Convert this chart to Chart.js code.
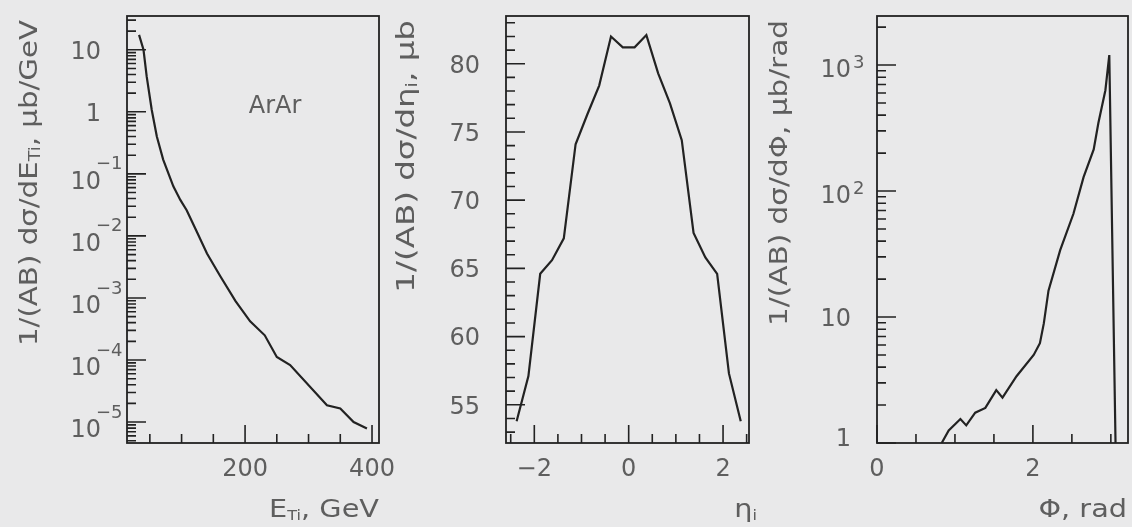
<!DOCTYPE html>
<html>
<head>
<meta charset="utf-8">
<script src="https://cdn.jsdelivr.net/npm/chart.js@4.4.1/dist/chart.umd.min.js"></script>
<style>
  html, body { margin: 0; padding: 0; background: #e9e9ea; }
  #wrap { position: relative; width: 1132px; height: 527px; }
  #wrap canvas { position: absolute; left: 0; top: 0; }
</style>
</head>
<body>
<div id="wrap">
  <canvas id="etChart" width="1132" height="527"></canvas>
  <canvas id="etaChart" width="1132" height="527"></canvas>
  <canvas id="phiChart" width="1132" height="527"></canvas>
</div>
<script>
// --- panel 1: transverse energy spectrum (log y)
const etBins = [33, 40, 45, 53, 61, 71, 87, 98, 108, 116, 124, 140, 161, 185, 208, 231, 250, 271, 329, 350, 371, 392];
const etCross = [17.4, 10, 3.72, 1.07, 0.40, 0.17, 0.063, 0.038, 0.026, 0.0174, 0.0117, 0.0052, 0.00224,
                 8.9e-4, 4.2e-4, 2.5e-4, 1.12e-4, 8.3e-5, 1.86e-5, 1.66e-5, 1.0e-5, 7.9e-6];
const etXTicks = [200, 400];
const etXMinor = [50, 100, 150, 250, 300, 350];
const etXLabels = ['200', '400'];
const etYTicks = [10, 1, 0.1, 0.01, 0.001, 1e-4, 1e-5];
const etYLabels = ['10', '1', '10^{\u22121}', '10^{\u22122}', '10^{\u22123}', '10^{\u22124}', '10^{\u22125}'];

// --- panel 2: pseudorapidity
const etaBins = [-2.375, -2.125, -1.875, -1.625, -1.375, -1.125, -0.875, -0.625, -0.375, -0.125,
                 0.125, 0.375, 0.625, 0.875, 1.125, 1.375, 1.625, 1.875, 2.125, 2.375];
const etaCross = [53.8, 57.1, 64.6, 65.6, 67.2, 74.1, 76.3, 78.4, 82.0, 81.2,
                  81.2, 82.1, 79.3, 77.1, 74.4, 67.6, 65.8, 64.6, 57.3, 53.8];
const etaXTicks = [-2, 0, 2];
const etaXMinor = [-2.5, -1.5, -1, -0.5, 0.5, 1, 1.5, 2.5];
const etaXLabels = ['\u22122', '0', '2'];
const etaYTicks = [55, 60, 65, 70, 75, 80];
const etaYMinor = [53, 54, 56, 57, 58, 59, 61, 62, 63, 64, 66, 67, 68, 69, 71, 72, 73, 74, 76, 77, 78, 79, 81, 82, 83];
const etaYLabels = ['55', '60', '65', '70', '75', '80'];

// --- panel 3: azimuthal angle (log y)
const phiBins = [0.83, 0.92, 1.07, 1.145, 1.26, 1.39, 1.53, 1.61, 1.79, 2.01, 2.09, 2.14, 2.20,
                 2.35, 2.52, 2.65, 2.78, 2.84, 2.93, 2.98, 3.06];
const phiCross = [1.0, 1.26, 1.55, 1.38, 1.74, 1.9, 2.63, 2.29, 3.39, 5.0, 6.2, 8.9, 16.2,
                  33.9, 66, 129, 214, 347, 631, 1200, 1.0];
const phiXTicks = [0, 2];
const phiXMinor = [0.5, 1, 1.5, 2.5, 3];
const phiXLabels = ['0', '2'];
const phiYTicks = [1, 10, 100, 1000];
const phiYLabels = ['1', '10', '10^{2}', '10^{3}'];

const ink = '#222222';
const textInk = '#5e5e5e';
const FONT = '"DejaVu Sans", sans-serif';

// split "E_{Ti}" / "10^{2}" into plain, sub and sup pieces
function parseRich(str) {
    const segs = [];
    let i = 0, buf = '';
    while (i < str.length) {
        const c = str[i];
        if ((c === '_' || c === '^') && str[i + 1] === '{') {
            if (buf) { segs.push({ t: buf, mode: '' }); buf = ''; }
            const end = str.indexOf('}', i);
            segs.push({ t: str.slice(i + 2, end), mode: c === '_' ? 'sub' : 'sup' });
            i = end + 1;
        } else {
            buf += c;
            i++;
        }
    }
    if (buf) segs.push({ t: buf, mode: '' });
    return segs;
}

function drawRich(ctx, str, x, y, o) {
    const segs = parseRich(str);
    const size = o.size;
    const supSize = o.supSize || Math.round(size * 0.7);
    const subSize = o.subSize || Math.round(size * 0.58);
    ctx.save();
    ctx.translate(x, y);
    if (o.rot) ctx.rotate(o.rot);
    ctx.scale(o.stretch || 1, 1);
    ctx.fillStyle = textInk;
    ctx.textAlign = 'left';
    ctx.textBaseline = 'alphabetic';
    const sizes = segs.map(s => s.mode === 'sup' ? supSize : s.mode === 'sub' ? subSize : size);
    const widths = segs.map((s, i) => {
        ctx.font = sizes[i] + 'px ' + FONT;
        return ctx.measureText(s.t).width + (s.mode === 'sup' ? (o.supGap || 0) : 0);
    });
    const total = widths.reduce((a, b) => a + b, 0);
    let cx = o.align === 'right' ? -total : o.align === 'center' ? -total / 2 : 0;
    if (o.anchorBase) {
        // right edge of the plain part sits at x, exponent hangs to the right
        const plain = segs.reduce((w, s, i) => s.mode === 'sup' ? w : w + widths[i], 0);
        cx = -plain;
    }
    segs.forEach((s, i) => {
        ctx.font = sizes[i] + 'px ' + FONT;
        let mid = o.shift || 0;
        if (s.mode === 'sup') mid -= o.supRise || size * 0.5;
        if (s.mode === 'sub') mid += o.subDrop || size * 0.3;
        const gap = s.mode === 'sup' ? (o.supGap || 0) : 0;
        ctx.fillText(s.t, cx + gap, mid + sizes[i] * 0.365);
        cx += widths[i];
    });
    ctx.restore();
}

function logMinor(min, max) {
    const out = [];
    for (let d = Math.floor(Math.log10(min)); d <= Math.ceil(Math.log10(max)); d++) {
        for (let m = 2; m <= 9; m++) {
            const v = m * Math.pow(10, d);
            if (v > min && v < max) out.push(v);
        }
    }
    return out;
}

// PAW-like frame: inward ticks on left and bottom, labels and titles
const pawAxes = {
    id: 'pawAxes',
    afterDraw(chart, args, o) {
        const { ctx, chartArea: a } = chart;
        const xs = chart.scales.x, ys = chart.scales.y;
        ctx.save();
        ctx.strokeStyle = ink;
        ctx.lineWidth = 1.6;
        ctx.beginPath();
        o.xMinor.forEach(v => { const p = xs.getPixelForValue(v); ctx.moveTo(p, a.bottom); ctx.lineTo(p, a.bottom - 9); });
        o.xMajor.forEach(v => { const p = xs.getPixelForValue(v); ctx.moveTo(p, a.bottom); ctx.lineTo(p, a.bottom - 18); });
        o.yMinor.forEach(v => { const p = ys.getPixelForValue(v); ctx.moveTo(a.left, p); ctx.lineTo(a.left + 9, p); });
        o.yMajor.forEach(v => { const p = ys.getPixelForValue(v); ctx.moveTo(a.left, p); ctx.lineTo(a.left + 19, p); });
        ctx.stroke();
        ctx.lineWidth = 1.8;
        ctx.strokeRect(a.left, a.top, a.right - a.left, a.bottom - a.top);
        ctx.restore();

        o.xMajor.forEach((v, i) => {
            drawRich(ctx, o.xLabels[i], xs.getPixelForValue(v), a.bottom + 24, { size: 24, align: 'center' });
        });
        o.yMajor.forEach((v, i) => {
            const lab = o.yLabels[i];
            const hasExp = lab.indexOf('^') >= 0;
            let shift = hasExp ? o.expShift : 0;
            if (i === 0 && o.firstShift) shift += o.firstShift;
            drawRich(ctx, lab, a.left - 26, ys.getPixelForValue(v), {
                size: 24, align: 'right', anchorBase: hasExp, supSize: 18,
                shift: shift, supRise: o.supRise, supGap: o.supGap
            });
        });
        drawRich(ctx, o.xTitle, o.xTitleRight, a.bottom + 65, {
            size: 25, align: 'right', stretch: 1.15, subSize: 14, subDrop: 7
        });
        drawRich(ctx, o.yTitle, o.yTitleX, a.top + 4, {
            size: 25, align: 'right', stretch: o.titleStretch || 1.15, rot: -Math.PI / 2, subSize: 15, subDrop: 7
        });
        if (o.note) drawRich(ctx, o.note.text, o.note.x, o.note.y, { size: 24, align: 'center' });
    }
};

function makePanel(id, xs, ys, pad, xScale, yScale, axes) {
    const canvas = document.getElementById(id);
    return new Chart(canvas.getContext('2d'), {
        type: 'line',
        data: {
            datasets: [{
                data: xs.map((v, i) => ({ x: v, y: ys[i] })),
                borderColor: ink,
                borderWidth: 2.2,
                pointRadius: 0,
                tension: 0,
                fill: false
            }]
        },
        options: {
            responsive: false,
            animation: false,
            events: [],
            layout: { padding: pad },
            plugins: { legend: { display: false }, tooltip: { enabled: false }, pawAxes: axes },
            scales: {
                x: Object.assign({ display: false }, xScale),
                y: Object.assign({ display: false }, yScale)
            }
        },
        plugins: [pawAxes]
    });
}

makePanel('etChart', etBins, etCross,
    { left: 127, right: 753, top: 16, bottom: 84 },
    { type: 'linear', min: 14, max: 411 },
    { type: 'logarithmic', min: 4.6e-6, max: 35 },
    {
        xMajor: etXTicks, xMinor: etXMinor, xLabels: etXLabels,
        yMajor: etYTicks, yMinor: logMinor(4.6e-6, 35), yLabels: etYLabels,
        expShift: 6, supRise: 17, supGap: -5,
        xTitle: 'E_{Ti}, GeV', xTitleRight: 379,
        yTitle: '1/(AB) d\u03c3/dE_{Ti}, \u03bcb/GeV', yTitleX: 28, titleStretch: 1.17,
        note: { text: 'ArAr', x: 275, y: 104 }
    });

makePanel('etaChart', etaBins, etaCross,
    { left: 506, right: 383, top: 16, bottom: 84 },
    { type: 'linear', min: -2.6, max: 2.55 },
    { type: 'linear', min: 52.2, max: 83.5 },
    {
        xMajor: etaXTicks, xMinor: etaXMinor, xLabels: etaXLabels,
        yMajor: etaYTicks, yMinor: etaYMinor, yLabels: etaYLabels,
        xTitle: '\u03b7_{i}', xTitleRight: 757,
        yTitle: '1/(AB) d\u03c3/d\u03b7_{i}, \u03bcb', yTitleX: 405, titleStretch: 1.3
    });

makePanel('phiChart', phiBins, phiCross,
    { left: 877, right: 4, top: 16, bottom: 84 },
    { type: 'linear', min: 0, max: 3.22 },
    { type: 'logarithmic', min: 1, max: 2450 },
    {
        xMajor: phiXTicks, xMinor: phiXMinor, xLabels: phiXLabels,
        yMajor: phiYTicks, yMinor: logMinor(1, 2450), yLabels: phiYLabels,
        expShift: 3, supRise: 7, supGap: 2, firstShift: -6,
        xTitle: '\u03a6, rad', xTitleRight: 1127,
        yTitle: '1/(AB) d\u03c3/d\u03a6, \u03bcb/rad', yTitleX: 778, titleStretch: 1.18
    });
</script>
</body>
</html>
